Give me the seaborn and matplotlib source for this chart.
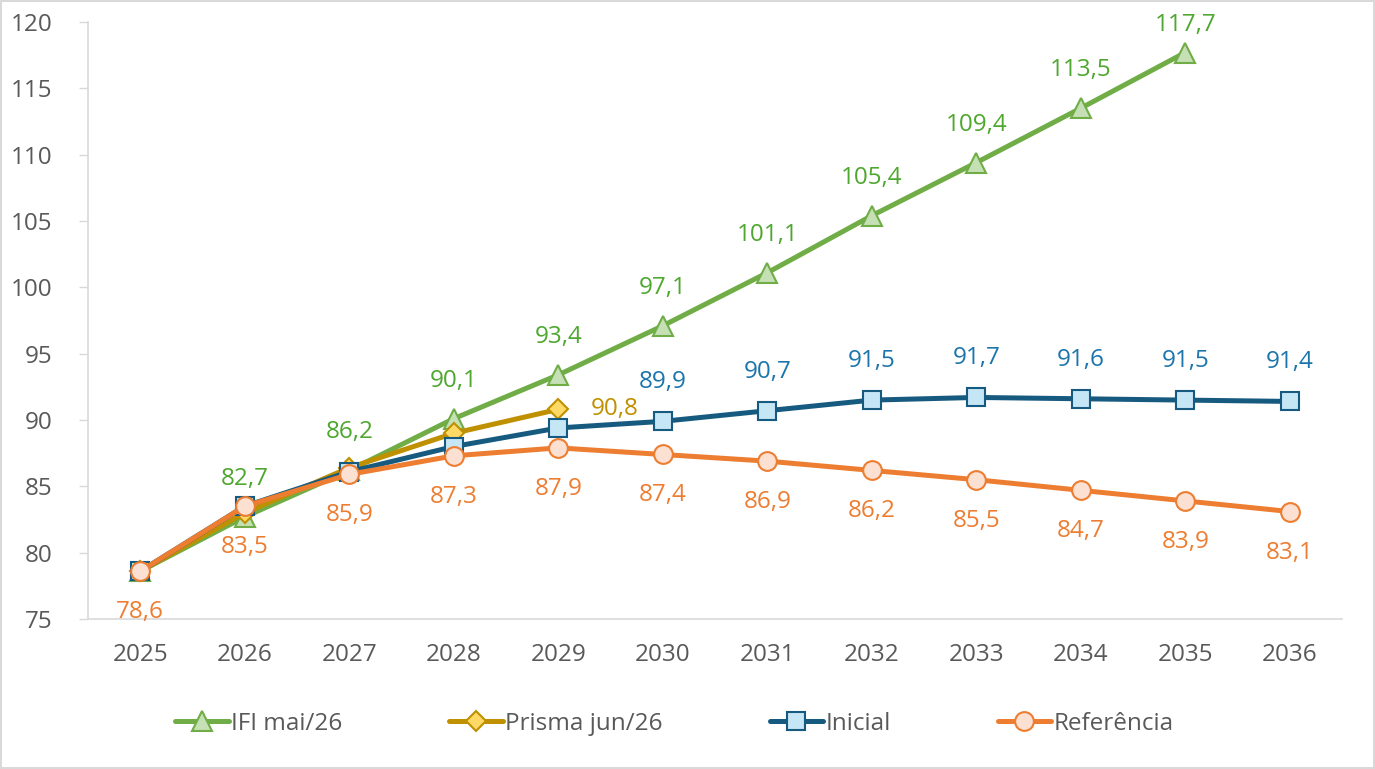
import matplotlib
matplotlib.use("Agg")
import matplotlib.pyplot as plt
import seaborn as sns
import numpy as np

# Data
years = [2025, 2026, 2027, 2028, 2029, 2030, 2031, 2032, 2033, 2034, 2035, 2036]
ifi_years = years[:11]
ifi_vals = [78.6, 82.7, 86.2, 90.1, 93.4, 97.1, 101.1, 105.4, 109.4, 113.5, 117.7]
prisma_years = years[:5]
prisma_vals = [78.6, 83.0, 86.4, 89.0, 90.8]
inicial_vals = [78.6, 83.5, 86.1, 88.0, 89.4, 89.9, 90.7, 91.5, 91.7, 91.6, 91.5, 91.4]
ref_vals = [78.6, 83.5, 85.9, 87.3, 87.9, 87.4, 86.9, 86.2, 85.5, 84.7, 83.9, 83.1]
yticks = [75, 80, 85, 90, 95, 100, 105, 110, 115, 120]

sns.set_theme(style="white")
plt.rcParams['font.family'] = ['Open Sans', 'DejaVu Sans']

fig = plt.figure(figsize=(13.75, 7.69), dpi=100)
fig.patch.set_edgecolor("#D9D9D9")
fig.patch.set_linewidth(1.5)
ax = fig.add_axes([88 / 1375, 1 - 619 / 769, (1342 - 88) / 1375, (619 - 22) / 769])

series = [
    ("IFI mai/26", ifi_years, ifi_vals, "#70AD47", "#C5E0B4", "#70AD47", "^", 14),
    ("Prisma jun/26", prisma_years, prisma_vals, "#BF9000", "#FFD966", "#BF9000", "D", 10),
    ("Inicial", years, inicial_vals, "#175A80", "#C5E6F5", "#175A80", "s", 13),
    ("Referência", years, ref_vals, "#ED7D31", "#FCE0D2", "#ED7D31", "o", 13.5),
]

for label, xs, ys, lc, fc, ec, mk, ms in series:
    sns.lineplot(x=xs, y=ys, ax=ax, color=lc, linewidth=3.6, marker=mk,
                 markersize=ms, markerfacecolor=fc, markeredgecolor=ec,
                 markeredgewidth=1.5, label=label, legend=False)

lab_fs = 17.5

def fmt(v):
    return f"{v:.1f}".replace(".", ",")

# IFI labels above its points (from 2026 on); the last one sits closer to stay inside
for i, (x, v) in enumerate(zip(ifi_years[1:], ifi_vals[1:])):
    dy = 28 if i == len(ifi_vals) - 2 else 38
    ax.annotate(fmt(v), (x, v), xytext=(0, dy), textcoords="offset pixels",
                ha="center", va="center", color="#4EA72E", fontsize=lab_fs)

# Inicial labels above (2030 on)
for x, v in zip(years[5:], inicial_vals[5:]):
    ax.annotate(fmt(v), (x, v), xytext=(0, 39), textcoords="offset pixels",
                ha="center", va="center", color="#1B75AC", fontsize=lab_fs)

# Prisma final value to the right
ax.annotate(fmt(prisma_vals[-1]), (prisma_years[-1], prisma_vals[-1]), xytext=(56, 0),
            textcoords="offset pixels", ha="center", va="center",
            color="#BF9000", fontsize=lab_fs)

# Referência labels below
for x, v in zip(years, ref_vals):
    ax.annotate(fmt(v), (x, v), xytext=(0, -41), textcoords="offset pixels",
                ha="center", va="center", color="#ED7D31", fontsize=lab_fs)

ax.set_xlim(2024.5, 2036.5)
ax.set_ylim(75, 120)
ax.set_yticks(yticks)
ax.set_xticks(years)
ax.set_xticklabels([str(y) for y in years])
ax.tick_params(axis="both", labelsize=17.5, labelcolor="#595959")
ax.tick_params(axis="y", length=6.5, width=1, color="#D9D9D9", direction="out", left=True, pad=19)
ax.tick_params(axis="x", length=0, pad=17)
for s in ["top", "right"]:
    ax.spines[s].set_visible(False)
ax.spines["left"].set_color("#D9D9D9")
ax.spines["bottom"].set_color("#D9D9D9")
ax.spines["left"].set_linewidth(1.2)
ax.spines["bottom"].set_linewidth(1.2)
ax.grid(False)
ax.set_xlabel("")
ax.set_ylabel("")

handles, labels = ax.get_legend_handles_labels()
fig.legend(handles, labels, loc="center", bbox_to_anchor=(0.4905, 1 - 724 / 769), ncol=4,
           frameon=False, fontsize=17.5, handlelength=2.2, handletextpad=0.1,
           columnspacing=4.4, labelcolor="#595959")

fig.savefig("out.png", dpi=100, facecolor="white", edgecolor=fig.get_edgecolor())
